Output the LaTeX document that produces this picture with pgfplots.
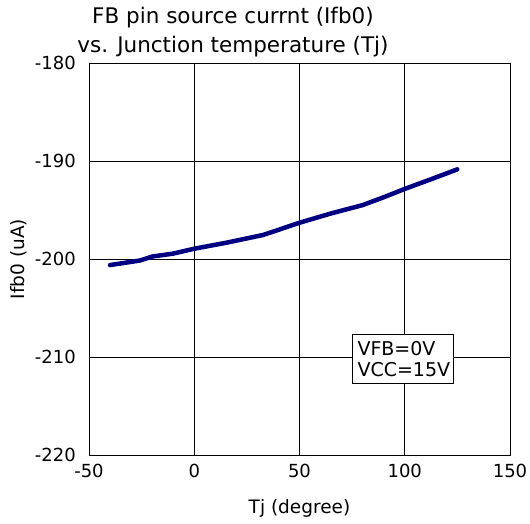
\documentclass[border=0pt]{standalone}
\usepackage{pgfplots}
\pgfplotsset{compat=1.18}
\usepackage{fontspec}
\setmainfont{DejaVu Sans}
\definecolor{curve}{RGB}{0,0,128}
\begin{document}
\begin{tikzpicture}
\useasboundingbox (0,0) rectangle (530bp,524bp);
\node[font=\fontsize{21.5bp}{24bp}\selectfont, anchor=center] at (233bp,506bp) {FB pin source currnt (Ifb0)};
\node[font=\fontsize{21.5bp}{24bp}\selectfont, anchor=center] at (233bp,477bp) {vs. Junction temperature (Tj)};
\begin{axis}[
  at={(89bp,69bp)}, anchor=south west,
  width=421bp, height=392bp, scale only axis,
  xmin=-50, xmax=150, ymin=-220, ymax=-180,
  xtick={-50,0,50,100,150}, ytick={-220,-210,-200,-190,-180},
  grid=major, grid style={black, line width=0.6bp},
  axis line style={black, line width=0.8bp},
  tick style={black, line width=0.6bp},
  tick align=inside, major tick length=4bp,
  xtick pos=left, ytick pos=left,
  /pgf/number format/assume math mode=true,
  tick label style={font=\fontsize{18bp}{20bp}\selectfont, inner sep=0pt},
  xticklabel style={anchor=center, yshift=-16bp},
  yticklabel style={anchor=east, xshift=-13bp},
  label style={font=\fontsize{18.5bp}{21bp}\selectfont},
  xlabel={Tj (degree)},
  ylabel={Ifb0 (uA)},
  xlabel style={at={(axis description cs:0.5,0)}, anchor=center, yshift=-53bp},
  ylabel style={at={(axis description cs:0,0.5)}, anchor=center, rotate=0, xshift=0bp, yshift=70bp},
]
\addplot[curve, line width=4.5bp, line cap=round, line join=round] coordinates {
(-40,-200.62) (-25.7,-200.15) (-20,-199.75) (-10,-199.45) (0,-198.95) (15,-198.35) (32.7,-197.55) (50,-196.3) (65,-195.35) (80,-194.5) (90,-193.7) (100,-192.85) (112,-191.9) (125,-190.85)
};
\node[draw=black, line width=0.8bp, fill=white, align=left, anchor=north west, inner xsep=5bp, inner ysep=2bp,
  text width=91bp, minimum height=48.7bp,
  font=\fontsize{19bp}{21bp}\selectfont] at (axis cs:75,-207.65) {VFB=0V\\VCC=15V};
\end{axis}
\end{tikzpicture}
\end{document}
